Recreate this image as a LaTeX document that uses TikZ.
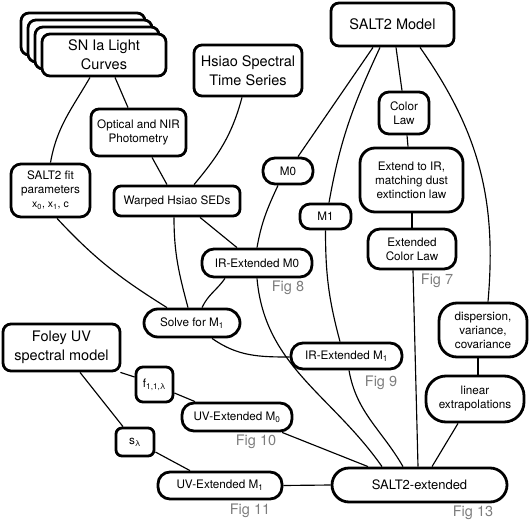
\documentclass[tikz,border=0pt]{standalone}
\usepackage{fontspec}
\setmainfont{TeX Gyre Heros}
\usetikzlibrary{backgrounds}
\definecolor{figgray}{RGB}{125,125,125}
\newcommand{\bigf}{\fontsize{14.5}{19}\selectfont}
\newcommand{\smallf}{\fontsize{11.7}{14}\selectfont}
\begin{document}
\begin{tikzpicture}[x=1pt,y=-1pt,
  box/.style={draw, line width=2.8pt, fill=white, rounded corners=#1, inner sep=0pt, align=center, font=\smallf},
  box/.default=8pt,
  conn/.style={line width=1.15pt},
  figlbl/.style={text=figgray, font=\fontsize{14.5}{17}\selectfont, inner sep=0pt}]
\useasboundingbox (0,0) rectangle (529,521);
% stacked light curves
\node[box=8pt, minimum width=124pt, minimum height=42pt] (sna) at (83,34) {};
\node[box=8pt, minimum width=124pt, minimum height=42pt] (snb) at (90,41) {};
\node[box=8pt, minimum width=124pt, minimum height=42pt] (snc) at (97,48) {};
\node[box=8pt, minimum width=124pt, minimum height=42pt, font=\bigf] (sn) at (104,55) {SN Ia Light\\Curves};
\node[box=8pt, minimum width=108pt, minimum height=51pt, font=\bigf] (hsiao) at (248,70.5) {Hsiao Spectral\\Time Series};
\node[box=8pt, minimum width=123pt, minimum height=43pt, font=\bigf] (salt2) at (392.5,24.5) {SALT2 Model};
\node[box=8pt, minimum width=95pt, minimum height=47pt] (optical) at (138.5,132.5) {Optical and NIR\\Photometry};
\node[box=10pt, minimum width=79pt, minimum height=53pt] (fit) at (50.5,190.5) {SALT2 fit\\parameters\\{\fontsize{10.5}{12}\selectfont x\textsubscript{0}, x\textsubscript{1}, c}};
\node[box=7pt, minimum width=126pt, minimum height=30pt] (warped) at (177,201) {Warped Hsiao SEDs};
\node[box=12pt, minimum width=50pt, minimum height=26pt] (m0) at (288,171) {M0};
\node[box=10pt, minimum width=50pt, minimum height=42pt] (colorlaw) at (404,113) {Color\\Law};
\node[box=15pt, minimum width=103pt, minimum height=64pt] (extend) at (411.5,180) {Extend to IR,\\matching dust\\extinction law};
\node[box=10pt, minimum width=51pt, minimum height=25pt] (m1) at (325.5,216.5) {M1};
\node[box=12pt, minimum width=88pt, minimum height=40pt] (extcl) at (412,249) {Extended\\Color Law};
\node[box=12pt, minimum width=110pt, minimum height=28pt] (irm0) at (257,263) {IR-Extended M0};
\node[box=14pt, minimum width=96pt, minimum height=28pt] (solve) at (192,323) {Solve for M\textsubscript{1}};
\node[box=12pt, minimum width=111pt, minimum height=26pt] (irm1) at (346.5,356) {IR-Extended M\textsubscript{1}};
\node[box=18pt, minimum width=88pt, minimum height=54pt] (disp) at (483,330) {dispersion,\\variance,\\covariance};
\node[box=20pt, minimum width=98pt, minimum height=46pt] (linear) at (475,399) {linear\\extrapolations};
\node[box=17pt, minimum width=175pt, minimum height=34pt, font=\fontsize{13}{15}\selectfont] (s2ext) at (419.5,485) {SALT2-extended};
\node[box=8pt, minimum width=117pt, minimum height=47pt, font=\bigf] (foley) at (61.5,347.5) {Foley UV\\spectral model};
\node[box=7pt, minimum width=37pt, minimum height=35pt] (f) at (154.5,384.5) {f\textsubscript{1,1,λ}};
\node[box=12pt, minimum width=110pt, minimum height=28pt] (uvm0) at (237,417) {UV-Extended M\textsubscript{0}};
\node[box=6pt, minimum width=38pt, minimum height=28pt] (s) at (135,442) {s\textsubscript{λ}};
\node[box=12pt, minimum width=124pt, minimum height=27pt] (uvm1) at (220,485.5) {UV-Extended M\textsubscript{1}};
% figure labels
\node[figlbl] (fig7) at (437,281) {Fig 7};
\node[figlbl] (fig8) at (288,288) {Fig 8};
\node[figlbl] (fig9) at (381,383) {Fig 9};
\node[figlbl] (fig10) at (256,442) {Fig 10};
\node[figlbl] (fig11) at (250,511) {Fig 11};
\node[figlbl] (fig13) at (473,513) {Fig 13};
% connectors
\begin{scope}[on background layer]
\draw[conn] ([xshift=-14pt]sn.south) to[out=-120,in=80] (fit.north);
\draw[conn] ([xshift=11pt]sn.south) -- ([xshift=-10.5pt]optical.north);
\draw[conn] ([xshift=13.5pt]optical.south) -- ([xshift=-10pt]warped.north);
\draw[conn] ([xshift=-6pt]hsiao.south) to[out=-105,in=50] ([xshift=17pt]warped.north);
\draw[conn] ([xshift=-3pt]warped.south) to[out=-90,in=105] ([xshift=-4pt]solve.north);
\draw[conn] ([xshift=23pt]warped.south) -- ([xshift=-20pt]irm0.north);
\draw[conn] ([xshift=-32pt]irm0.south) to[out=-125,in=65] ([xshift=10pt]solve.north);
\draw[conn] ([xshift=6.5pt]fit.south) to[out=-47,in=148] ([xshift=-25pt]solve.north);
\draw[conn] ([xshift=20pt]solve.south) to[out=-35,in=180] ([yshift=-1pt]irm1.west);
\draw[conn] ([xshift=10pt]m0.north) -- ([xshift=-19.5pt]salt2.south);
\draw[conn] ([xshift=-10pt]m0.south) to[out=-115,in=80] (irm0.north);
\draw[conn] ([xshift=3.5pt]m1.north) to[out=80,in=-115] ([xshift=-12.5pt]salt2.south);
\draw[conn] (m1.south) to[out=-90,in=105] ([xshift=-6.5pt]irm1.north);
\draw[conn] ([xshift=3.5pt]salt2.south) -- ([xshift=-2pt]colorlaw.north);
\draw[conn] ([xshift=3pt]colorlaw.south) -- ([xshift=-3.5pt]extend.north);
\draw[conn] ([xshift=0.5pt]extend.south) -- (extcl.north);
\draw[conn] ([xshift=1pt]extcl.south) -- ([xshift=-1.5pt]s2ext.north);
\draw[conn] ([xshift=27.5pt]salt2.south) to[out=-55,in=85] ([xshift=5pt]disp.north);
\draw[conn] ([xshift=-5pt]disp.south) -- ([xshift=3pt]linear.north);
\draw[conn] ([xshift=-17pt]linear.south) -- ([xshift=12.5pt]s2ext.north);
\draw[conn] (irm0.south) to[out=-85,in=125] ([xshift=-37.5pt]s2ext.north);
\draw[conn] ([xshift=2.5pt]irm1.south) to[out=-80,in=120] ([xshift=-16.5pt]s2ext.north);
\draw[conn] ([xshift=45pt]uvm0.south) -- ([xshift=-51.5pt]s2ext.north);
\draw[conn] (uvm1.east) -- (s2ext.west);
\draw[conn] ([xshift=18.5pt]foley.south) -- ([xshift=-12pt]s.north);
\draw[conn] ([yshift=-10pt]s.east) -- ([xshift=-30pt]uvm1.north);
\draw[conn] ([xshift=-1pt]foley.south east) -- ([yshift=7.5pt]f.west);
\draw[conn] ([yshift=-8.5pt]f.east) -- ([xshift=-42pt]uvm0.north);
\end{scope}
\end{tikzpicture}
\end{document}
